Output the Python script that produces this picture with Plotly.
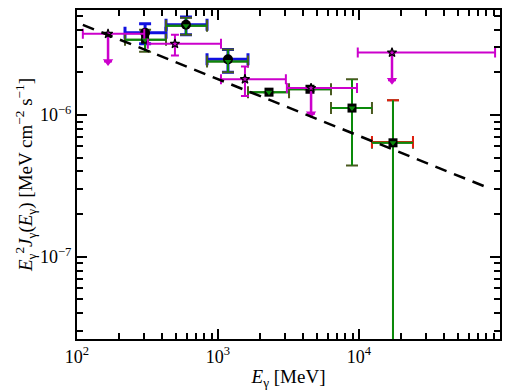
import plotly.graph_objects as go
import numpy as np

# ---------------- data ----------------
# magenta (star) points, with some upper limits
mag_E = [166, 495, 1553, 4570, 17140]
mag_Elo = [110, 318, 1050, 3080, 9800]
mag_Ehi = [300, 1050, 3030, 9680, 92300]
mag_F = [3.74e-6, 3.18e-6, 1.79e-6, 1.55e-6, 2.76e-6]
mag_Fhi = [3.74e-6, 3.68e-6, 2.20e-6, 1.55e-6, 2.76e-6]
mag_Flo = [2.39e-6, 2.63e-6, 1.36e-6, 1.02e-6, 1.76e-6]
mag_ul = [True, False, False, True, True]

# binned spectral points
lat_E = [304, 593, 1177, 2300, 4490, 8920, 17420]
lat_Elo = [219, 428, 836, 1632, 3190, 6330, 12360]
lat_Ehi = [428, 836, 1632, 3190, 6330, 12360, 24150]
green_F = [3.40e-6, 4.26e-6, 2.39e-6, 1.45e-6, 1.52e-6, 1.12e-6, 6.37e-7]
green_Fhi = [3.99e-6, 4.85e-6, 2.90e-6, 1.45e-6, 1.52e-6, 1.79e-6, 1.27e-6]
green_Flo = [2.80e-6, 3.68e-6, 2.00e-6, 1.45e-6, 1.52e-6, 4.40e-7, 1e-9]

blue_E = [304, 593, 1177]
blue_Elo = [219, 428, 836]
blue_Ehi = [428, 836, 1632]
blue_F = [3.80e-6, 4.33e-6, 2.47e-6]
blue_Fhi = [4.40e-6, 4.92e-6, 2.90e-6]
blue_Flo = [3.18e-6, 3.68e-6, 2.00e-6]

red_E = [17420]
red_Elo = [12360]
red_Ehi = [24150]
red_F = [6.45e-7]
red_Fhi = [1.27e-6]
red_Flo = [1e-9]

# power-law model
pl_E = [110, 82000]
pl_norm = 4.33e-6
pl_E0 = 110
pl_slope = -0.40

# axis ticks
x_major = [1e2, 1e3, 1e4, 1e5]
x_labels = ["10<sup>2</sup>", "10<sup>3</sup>", "10<sup>4</sup>", "10<sup>5</sup>"]
y_major = [1e-7, 1e-6]
y_labels = ["10<sup>−7</sup>", "10<sup>−6</sup>"]
x_minor = [m * 10 ** d for d in (2, 3, 4) for m in range(2, 10)]
y_minor = [m * 10 ** d for d in (-8, -7, -6) for m in range(2, 10)]
x_range = [2, 5]
y_range = [-7.58, -5.259]

# ---------------- helpers ----------------
def errs(x, lo, hi):
    return [h - v for v, h in zip(x, hi)], [v - l for v, l in zip(x, lo)]

fig = go.Figure()

def err_trace(E, Elo, Ehi, F, Flo, Fhi, color, lw, cap):
    ex_p, ex_m = errs(E, Elo, Ehi)
    ey_p, ey_m = errs(F, Flo, Fhi)
    fig.add_trace(go.Scatter(
        x=E, y=F, mode="markers",
        marker=dict(size=1, opacity=0),
        error_x=dict(type="data", symmetric=False, array=ex_p, arrayminus=ex_m,
                     color=color, thickness=lw, width=cap),
        error_y=dict(type="data", symmetric=False, array=ey_p, arrayminus=ey_m,
                     color=color, thickness=lw, width=cap),
        showlegend=False, hoverinfo="skip"))

err_trace(blue_E, blue_Elo, blue_Ehi, blue_F, blue_Flo, blue_Fhi, "#1010e0", 3, 6)
err_trace(lat_E, lat_Elo, lat_Ehi, green_F, green_Flo, green_Fhi, "#4a5a20", 2, 6)
err_trace(red_E, red_Elo, red_Ehi, red_F, red_Flo, red_Fhi, "#e02010", 2, 6)
err_trace(lat_E, lat_Elo, lat_Ehi, green_F, green_Flo, green_Fhi, "#0a8a0a", 2, 0)

# markers
fig.add_trace(go.Scatter(x=blue_E, y=blue_F, mode="markers",
                         marker=dict(symbol="circle", size=10, color="black"),
                         showlegend=False, hoverinfo="skip"))
fig.add_trace(go.Scatter(x=lat_E[3:], y=green_F[3:], mode="markers",
                         marker=dict(symbol="square", size=9, color="black"),
                         showlegend=False, hoverinfo="skip"))
fig.add_trace(go.Scatter(x=lat_E[:1], y=green_F[:1], mode="markers",
                         marker=dict(symbol="square", size=8, color="black"),
                         showlegend=False, hoverinfo="skip"))
fig.add_trace(go.Scatter(x=lat_E, y=green_F, mode="markers",
                         marker=dict(symbol="triangle-down", size=6, color="#0a8a0a",
                                     line=dict(width=0)),
                         showlegend=False, hoverinfo="skip"))

# magenta points
mag_col = "#cc00cc"
ex_p, ex_m = errs(mag_E, mag_Elo, mag_Ehi)
ey_p = [h - v for v, h in zip(mag_F, mag_Fhi)]
ey_m = [v - l for v, l in zip(mag_F, mag_Flo)]
fig.add_trace(go.Scatter(
    x=mag_E, y=mag_F, mode="markers",
    marker=dict(size=1, opacity=0),
    error_x=dict(type="data", symmetric=False, array=ex_p, arrayminus=ex_m,
                 color=mag_col, thickness=2, width=5),
    error_y=dict(type="data", symmetric=False, array=ey_p, arrayminus=ey_m,
                 color=mag_col, thickness=2, width=4),
    showlegend=False, hoverinfo="skip"))
ul_E = [e for e, u in zip(mag_E, mag_ul) if u]
ul_F = [f for f, u in zip(mag_F, mag_ul) if u]
ul_tip = [l for l, u in zip(mag_Flo, mag_ul) if u]
for e, f, t in zip(ul_E, ul_F, ul_tip):
    fig.add_trace(go.Scatter(x=[e, e], y=[f, t], mode="lines",
                             line=dict(color=mag_col, width=2.5),
                             showlegend=False, hoverinfo="skip"))
fig.add_trace(go.Scatter(x=ul_E, y=ul_tip, mode="markers",
                         marker=dict(symbol="triangle-down", size=9, color=mag_col),
                         showlegend=False, hoverinfo="skip"))
fig.add_trace(go.Scatter(x=mag_E, y=mag_F, mode="markers",
                         marker=dict(symbol="star", size=7, color=mag_col,
                                     line=dict(color="black", width=1.2)),
                         showlegend=False, hoverinfo="skip"))

# dashed power law
pl_F = [pl_norm * (e / pl_E0) ** pl_slope for e in pl_E]
fig.add_trace(go.Scatter(x=pl_E, y=pl_F, mode="lines",
                         line=dict(color="black", width=2.5, dash="12px,8px"),
                         showlegend=False, hoverinfo="skip"))

font = "Liberation Serif"

def axis(rng, major, labels, minor, title):
    return dict(
        type="log", range=rng, showgrid=False, zeroline=False,
        showline=True, linecolor="black", linewidth=2, mirror="allticks",
        layer="above traces",
        ticks="inside", tickvals=major, ticktext=labels,
        ticklen=10, tickwidth=2, tickcolor="#000000",
        tickfont=dict(family=font, size=18, color="black"),
        minor=dict(tickvals=minor, ticks="inside", ticklen=6, tickwidth=2,
                   tickcolor="#000000", showgrid=False),
        title=title,
    )

fig.update_layout(
    width=510, height=392,
    margin=dict(l=77, r=10, t=8, b=52),
    paper_bgcolor="white", plot_bgcolor="white",
    font=dict(family=font, color="black"),
    xaxis=axis(x_range, x_major, x_labels, x_minor,
               dict(text="<i>E</i><sub>γ</sub> [MeV]", font=dict(family=font, size=19),
                    standoff=4)),
    yaxis=axis(y_range, y_major, y_labels, y_minor,
               dict(text="<i>E</i><sub>γ</sub><sup>2</sup><i>J</i><sub>γ</sub>(<i>E</i><sub>γ</sub>) [MeV cm<sup>−2</sup> s<sup>−1</sup>]",
                    font=dict(family=font, size=19), standoff=2)),
)

fig.write_html("out.html")
